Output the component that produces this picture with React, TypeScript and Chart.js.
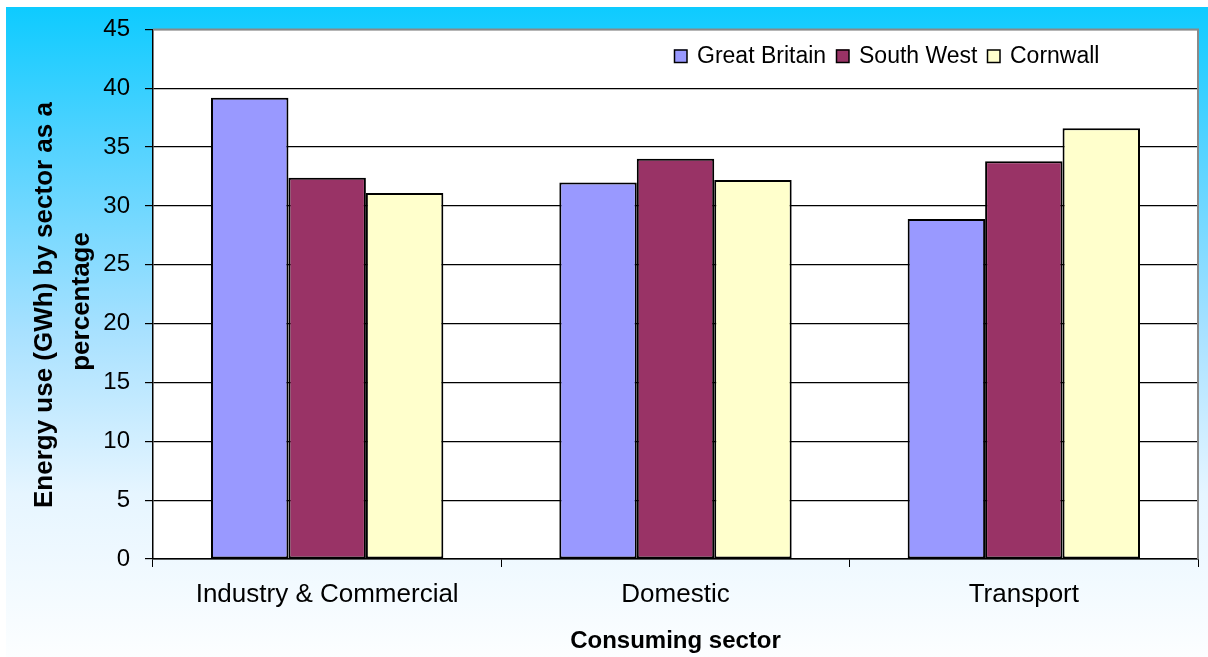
import React, { useEffect, useRef } from "react";
import { Chart, registerables } from "chart.js";

Chart.register(...registerables);

const categories = ["Industry & Commercial", "Domestic", "Transport"];
const greatBritain = [39.2, 32.0, 28.9];
const southWest = [32.4, 34.0, 33.8];
const cornwall = [31.1, 32.2, 36.6];
const seriesNames = ["Great Britain", "South West", "Cornwall"];
const seriesColors = ["#9999FF", "#993366", "#FFFFCC"];
const yTicksMax = 45;
const yStep = 5;

const FONT = "'Liberation Sans', Arial, Helvetica, sans-serif";

const frame = {
  id: "frame",
  beforeDraw(chart: any) {
    const { ctx, chartArea } = chart;
    ctx.save();
    ctx.fillStyle = "#fff";
    ctx.fillRect(chartArea.left, chartArea.top, chartArea.right - chartArea.left, chartArea.bottom - chartArea.top);
    ctx.restore();
  },
  beforeDatasetsDraw(chart: any) {
    const { ctx, chartArea } = chart;
    ctx.save();
    ctx.strokeStyle = "#8a8a8a";
    ctx.lineWidth = 2;
    ctx.beginPath();
    ctx.moveTo(chartArea.left, chartArea.top);
    ctx.lineTo(chartArea.right, chartArea.top);
    ctx.lineTo(chartArea.right, chartArea.bottom);
    ctx.stroke();
    ctx.restore();
  },
};

const legendPlugin = {
  id: "customLegend",
  afterDraw(chart: any) {
    const { ctx } = chart;
    const boxX = [674, 836, 987];
    const cy = 56;
    ctx.save();
    ctx.font = `23px ${FONT}`;
    ctx.textBaseline = "middle";
    ctx.textAlign = "left";
    chart.data.datasets.forEach((ds: any, i: number) => {
      const x = boxX[i];
      ctx.fillStyle = ds.backgroundColor;
      ctx.fillRect(x, cy - 6.5, 13, 13);
      ctx.strokeStyle = "#000";
      ctx.lineWidth = 1.5;
      ctx.strokeRect(x + 0.5, cy - 6, 12.5, 12.5);
      ctx.fillStyle = "#000";
      ctx.fillText(ds.label, x + 23, cy + 1);
    });
    ctx.restore();
  },
};

export default function App() {
  const ref = useRef<HTMLCanvasElement>(null);

  useEffect(() => {
    if (!ref.current) return;
    const chart = new Chart(ref.current, {
      type: "bar",
      data: {
        labels: categories,
        datasets: [greatBritain, southWest, cornwall].map((d, i) => ({
          label: seriesNames[i],
          data: d,
          backgroundColor: seriesColors[i],
          borderColor: "#000",
          borderWidth: 2,
          borderSkipped: false,
          categoryPercentage: 0.667,
          barPercentage: 1,
        })),
      },
      options: {
        animation: false,
        responsive: false,
        maintainAspectRatio: false,
        layout: { padding: { top: 29, right: 10, bottom: 0, left: 0 } },
        plugins: {
          legend: { display: false },
          tooltip: { enabled: false },
        },
        scales: {
          x: {
            offset: true,
            grid: {
              offset: true,
              drawOnChartArea: false,
              drawTicks: true,
              tickLength: 8,
              color: "#000",
            },
            border: { display: true, color: "#000", width: 1.5 },
            ticks: {
              color: "#000",
              font: { family: FONT, size: 26 },
              padding: 12,
              maxRotation: 0,
            },
            title: {
              display: true,
              text: "Consuming sector",
              color: "#000",
              font: { family: FONT, size: 24, weight: "bold" },
              padding: { top: 0, bottom: 1 },
            },
            afterFit(scale: any) {
              scale.height = 98;
            },
          },
          y: {
            min: 0,
            max: yTicksMax,
            ticks: {
              stepSize: yStep,
              color: "#000",
              font: { family: FONT, size: 24 },
              padding: 15,
            },
            grid: {
              color: (c: any) => (c.tick && c.tick.value === yTicksMax ? "#8a8a8a" : "#000"),
              tickColor: "#000",
              tickLength: 8,
              lineWidth: 1.2,
            },
            border: { display: true, color: "#000", width: 1.5 },
            title: {
              display: true,
              text: ["Energy use (GWh) by sector as a   ", "percentage  "],
              color: "#000",
              font: { family: FONT, size: 26, weight: "bold", lineHeight: 1.42 },
              padding: { top: 26, bottom: 0 },
            },
            afterFit(scale: any) {
              scale.width = 153;
            },
          },
        },
      },
      plugins: [frame, legendPlugin],
    });
    return () => chart.destroy();
  }, []);

  return (
    <div style={{ position: "absolute", left: 0, top: 0, width: 1208, height: 657, background: "#fff" }}>
      <div
        style={{
          position: "absolute",
          left: 6,
          top: 7,
          right: 0,
          bottom: 0,
          background:
            "linear-gradient(to bottom, #0ECBFF 0%, #55D3FF 22%, #A8E1FF 50%, #E6F5FF 75%, #FCFEFF 100%)",
        }}
      />
      <canvas ref={ref} width={1208} height={657} style={{ position: "absolute", left: 0, top: 0 }} />
    </div>
  );
}
